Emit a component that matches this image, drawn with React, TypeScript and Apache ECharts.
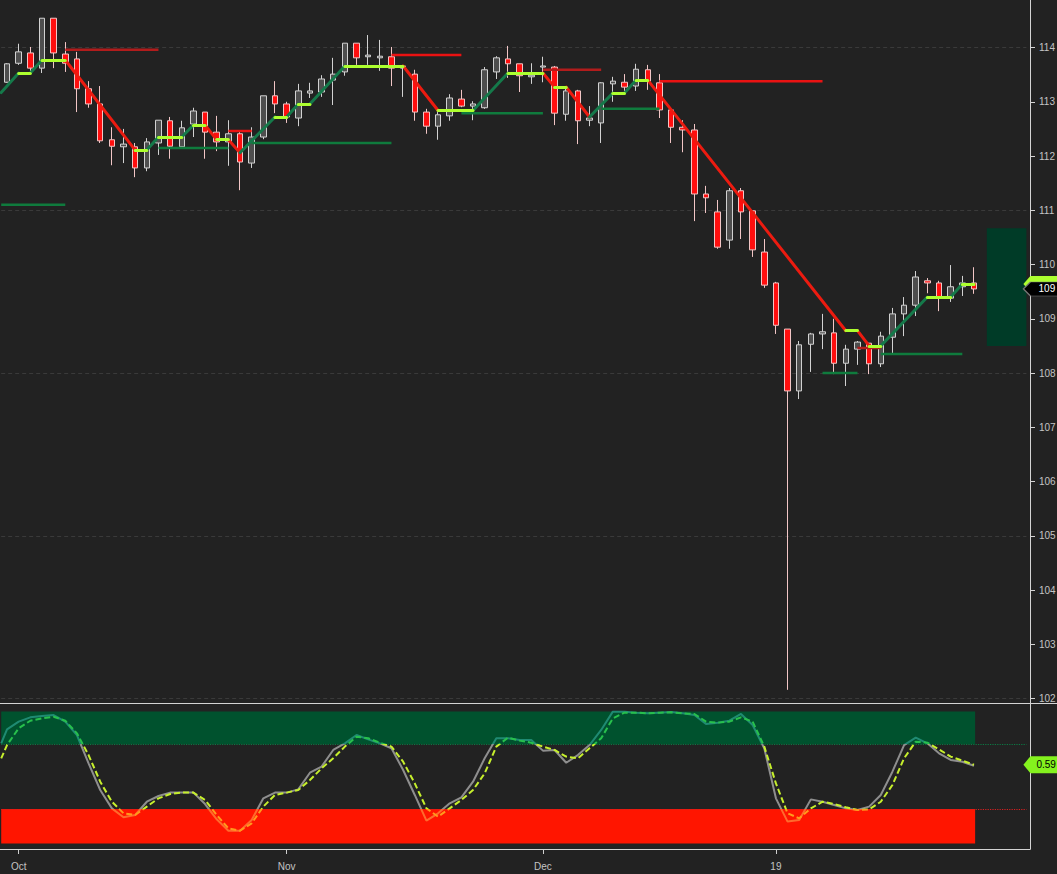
import React, { useEffect, useRef } from 'react';
import * as echarts from 'echarts';

// ---------- data ----------
const dates = [
  '2018-09-28',
  '2018-10-01', '2018-10-02', '2018-10-03', '2018-10-04', '2018-10-05',
  '2018-10-08', '2018-10-09', '2018-10-10', '2018-10-11', '2018-10-12',
  '2018-10-15', '2018-10-16', '2018-10-17', '2018-10-18', '2018-10-19',
  '2018-10-22', '2018-10-23', '2018-10-24', '2018-10-25', '2018-10-26',
  '2018-10-29', '2018-10-30', '2018-10-31',
  '2018-11-01', '2018-11-02',
  '2018-11-05', '2018-11-06', '2018-11-07', '2018-11-08', '2018-11-09',
  '2018-11-12', '2018-11-13', '2018-11-14', '2018-11-15', '2018-11-16',
  '2018-11-19', '2018-11-20', '2018-11-21', '2018-11-22', '2018-11-23',
  '2018-11-26', '2018-11-27', '2018-11-28', '2018-11-29', '2018-11-30',
  '2018-12-03', '2018-12-04', '2018-12-05', '2018-12-06', '2018-12-07',
  '2018-12-10', '2018-12-11', '2018-12-12', '2018-12-13', '2018-12-14',
  '2018-12-17', '2018-12-18', '2018-12-19', '2018-12-20', '2018-12-21',
  '2018-12-24', '2018-12-26', '2018-12-27', '2018-12-28', '2018-12-31',
  '2019-01-02', '2019-01-03', '2019-01-04',
  '2019-01-07', '2019-01-08', '2019-01-09', '2019-01-10', '2019-01-11',
  '2019-01-14', '2019-01-15', '2019-01-16', '2019-01-17', '2019-01-18',
  '2019-01-21', '2019-01-22', '2019-01-23', '2019-01-24', '2019-01-25',
];

const opens = [
  113.36, 113.71, 113.90, 113.62, 114.54, 113.88, 113.79, 113.24, 112.96, 112.30,
  112.17, 112.17, 111.78, 112.24, 112.65, 112.17, 112.59, 112.81, 112.44, 112.26,
  112.41, 111.87, 112.35, 113.11, 112.96, 112.70, 113.16, 113.18, 113.40, 113.55,
  114.08, 113.83, 113.81, 113.83, 113.62, 113.51, 112.81, 112.55, 112.74, 113.05,
  112.92, 112.89, 113.55, 113.79, 113.70, 113.46, 113.64, 113.64, 112.77, 113.20,
  112.66, 112.61, 113.33, 113.36, 113.29, 113.59, 113.35, 112.85, 112.53, 112.48,
  111.30, 110.97, 110.45, 111.36, 110.99, 110.23, 109.66, 108.81, 107.67, 108.53,
  108.72, 108.74, 108.18, 108.44, 108.55, 108.17, 108.66, 109.09, 109.25, 109.70,
  109.66, 109.38, 109.59, 109.66,
];
const closes = [
  113.70, 113.92, 113.62, 114.54, 113.90, 113.71, 113.24, 112.96, 112.28, 112.18,
  112.22, 111.78, 112.26, 112.66, 112.18, 112.52, 112.83, 112.44, 112.26, 112.41,
  111.89, 112.35, 113.11, 112.96, 112.72, 113.20, 113.20, 113.42, 113.51, 114.08,
  113.81, 113.86, 113.84, 113.62, 113.66, 112.81, 112.55, 112.76, 113.07, 112.92,
  112.96, 113.59, 113.81, 113.70, 113.48, 113.49, 113.66, 112.79, 113.20, 112.65,
  112.70, 113.35, 113.38, 113.27, 113.60, 113.38, 112.85, 112.53, 112.48, 111.30,
  111.23, 110.32, 111.36, 110.97, 110.27, 109.62, 108.88, 107.67, 108.52, 108.72,
  108.76, 108.18, 108.44, 108.57, 108.17, 108.68, 109.09, 109.25, 109.77, 109.66,
  109.40, 109.59, 109.66, 109.55,
];
const lows = [
  113.35, 113.68, 113.55, 113.53, 113.62, 113.55, 112.81, 112.89, 112.24, 111.83,
  111.87, 111.61, 111.72, 112.02, 111.95, 112.17, 112.35, 111.95, 112.09, 111.82,
  111.37, 111.78, 112.31, 112.79, 112.61, 112.55, 113.07, 113.09, 112.94, 113.48,
  113.68, 113.68, 113.57, 113.29, 113.09, 112.65, 112.41, 112.30, 112.65, 112.90,
  112.66, 112.87, 113.42, 113.44, 113.18, 113.33, 113.36, 112.57, 112.65, 112.22,
  112.55, 112.24, 113.00, 113.18, 113.20, 113.22, 112.70, 112.24, 112.07, 110.80,
  110.95, 110.29, 110.29, 110.47, 110.14, 109.57, 108.72, 102.16, 107.52, 108.02,
  108.44, 107.98, 107.76, 108.15, 107.98, 108.11, 108.37, 108.68, 109.05, 109.47,
  109.14, 109.31, 109.42, 109.46,
];
const highs = [
  113.71, 114.07, 114.01, 114.54, 114.54, 114.10, 113.92, 113.38, 113.29, 112.53,
  112.50, 112.24, 112.33, 112.66, 112.72, 112.65, 112.89, 112.81, 112.74, 112.66,
  112.44, 112.53, 113.11, 113.38, 113.00, 113.33, 113.35, 113.49, 113.81, 114.08,
  114.08, 114.23, 114.14, 114.01, 113.68, 113.59, 112.87, 112.81, 113.14, 113.22,
  113.01, 113.64, 113.84, 114.03, 113.70, 113.71, 113.83, 113.66, 113.27, 113.22,
  112.92, 113.36, 113.46, 113.51, 113.70, 113.68, 113.51, 112.85, 112.66, 112.59,
  111.45, 111.19, 111.41, 111.41, 110.99, 110.47, 109.68, 108.81, 108.59, 108.74,
  109.09, 109.00, 108.52, 108.59, 108.55, 108.76, 109.20, 109.40, 109.88, 109.75,
  109.70, 109.99, 109.79, 109.95,
];

// trailing step line vertices (bar index, price)
const stepIdx = [-0.5, 1, 2, 3, 5, 11, 12, 13, 15, 16, 17, 18, 19, 20, 23, 24, 25, 26, 29, 34,
  37, 40, 43, 46, 47, 48, 50, 52, 53, 54, 55, 72, 73, 74, 75, 79, 81, 82, 83];
const stepVal = [113.17, 113.53, 113.53, 113.77, 113.77, 112.11, 112.11, 112.35, 112.35, 112.57,
  112.57, 112.30, 112.30, 112.06, 112.72, 112.72, 112.96, 112.96, 113.66, 113.66,
  112.84, 112.84, 113.53, 113.53, 113.27, 113.27, 112.72, 113.16, 113.16, 113.40,
  113.40, 108.78, 108.78, 108.50, 108.50, 109.40, 109.40, 109.64, 109.64];

// resistance levels
const resFrom = [5, 19, 33, 46, 56, 73];
const resTo = [13, 21, 39, 51, 70, 75];
const resVal = [113.96, 112.46, 113.86, 113.59, 113.38, 108.46];
const resOld = [true, false, false, true, false, true];

// support levels
const supFrom = [-0.5, 13, 21, 39, 51, 70, 75];
const supTo = [5, 19, 33, 46, 56, 73, 82];
const supVal = [111.10, 112.15, 112.24, 112.79, 112.87, 108.00, 108.35];

// projection box (bar index range, price range)
const boxIdx = [84.1, 87.5];
const boxPrice = [108.50, 110.67];

const priceTicks = [102, 103, 104, 105, 106, 107, 108, 109, 110, 111, 112, 113, 114];
const priceGrid = [102, 105, 108, 111, 114];

// oscillator
const kLead = 0.755;
const dLead = 0.64;
const kVals = [
  0.863, 0.922, 0.955, 0.965, 0.973, 0.922, 0.819, 0.601, 0.396, 0.255,
  0.186, 0.204, 0.306, 0.350, 0.376, 0.376, 0.376, 0.288, 0.171, 0.083,
  0.083, 0.165, 0.332, 0.376, 0.376, 0.401, 0.529, 0.576, 0.704, 0.755,
  0.819, 0.786, 0.755, 0.717, 0.550, 0.358, 0.160, 0.217, 0.294, 0.340,
  0.460, 0.640, 0.794, 0.794, 0.781, 0.781, 0.699, 0.704, 0.606, 0.665,
  0.742, 0.858, 0.999, 0.999, 0.991, 0.986, 0.991, 0.996, 0.986, 0.973,
  0.904, 0.914, 0.929, 0.981, 0.896, 0.717, 0.332, 0.153, 0.165, 0.324,
  0.306, 0.281, 0.255, 0.242, 0.268, 0.358, 0.537, 0.742, 0.799, 0.755,
  0.678, 0.627, 0.614, 0.583,
];
const dVals = [
  0.742, 0.871, 0.929, 0.947, 0.960, 0.929, 0.832, 0.665, 0.460, 0.306,
  0.217, 0.204, 0.268, 0.332, 0.365, 0.376, 0.376, 0.319, 0.204, 0.101,
  0.083, 0.140, 0.268, 0.358, 0.376, 0.396, 0.473, 0.563, 0.640, 0.730,
  0.806, 0.794, 0.760, 0.730, 0.614, 0.447, 0.255, 0.191, 0.255, 0.319,
  0.396, 0.524, 0.730, 0.799, 0.776, 0.760, 0.730, 0.704, 0.653, 0.640,
  0.717, 0.794, 0.947, 0.991, 0.991, 0.986, 0.991, 0.994, 0.986, 0.981,
  0.922, 0.914, 0.922, 0.955, 0.922, 0.730, 0.447, 0.217, 0.178, 0.255,
  0.306, 0.288, 0.263, 0.242, 0.247, 0.306, 0.435, 0.640, 0.768, 0.760,
  0.709, 0.653, 0.622, 0.590,
];
const obLevel = 0.75;
const osLevel = 0.25;
const obZone = [0.75, 1.0];
const osZone = [-0.015, 0.25];
const zoneEndIdx = 83.1;

const MONTHS = ['Jan', 'Feb', 'Mar', 'Apr', 'May', 'Jun', 'Jul', 'Aug', 'Sep', 'Oct', 'Nov', 'Dec'];

// ---------- chart ----------
const FONT = 'Liberation Sans, Arial, sans-serif';
const SLOTS = 88;
const LABEL_PATH = 'path://M0,8 L7,0 L40,0 L40,16 L7,16 Z';

function levelSeries(from: number[], to: number[], val: number[], keep: (i: number) => boolean, color: string) {
  const data: any[] = [];
  val.forEach((v, i) => {
    if (!keep(i)) return;
    data.push([from[i], v], [to[i], v], [to[i] + 0.01, '-']);
  });
  return {
    type: 'line', xAxisIndex: 1, yAxisIndex: 0, z: 3, silent: true,
    symbol: 'none', connectNulls: false,
    lineStyle: { width: 2.5, color, type: 'solid' },
    data,
  };
}

export default function App() {
  const ref = useRef<HTMLDivElement>(null);

  useEffect(() => {
    const chart = echarts.init(ref.current!, null, { renderer: 'svg' });

    const cats = dates.concat(Array.from({ length: SLOTS - dates.length }, (_, i) => ' '.repeat(i + 1)));
    const candleData = opens.map((o, i) => [o, closes[i], lows[i], highs[i]]);

    const tickIdx: number[] = [];
    const tickText: Record<number, string> = {};
    for (let i = 1; i < dates.length; i++) {
      const m = dates[i].slice(5, 7);
      if (m !== dates[i - 1].slice(5, 7)) {
        tickIdx.push(i);
        const mi = Number(m) - 1;
        tickText[i] = mi === 0 ? dates[i].slice(2, 4) : MONTHS[mi];
      }
    }

    const LIME = '#adff2f';
    const UPC = '#15794a';
    const DNC = '#ec1b10';
    const stepSegs: any[] = [];
    for (let j = 0; j < stepIdx.length - 1; j++) {
      const a = stepVal[j], b = stepVal[j + 1];
      const color = a === b ? LIME : b > a ? UPC : DNC;
      stepSegs.push({
        coords: [[stepIdx[j], a], [stepIdx[j + 1], b]],
        lineStyle: { color },
      });
    }
    stepSegs.sort((p, q) => (p.lineStyle.color === LIME ? 1 : 0) - (q.lineStyle.color === LIME ? 1 : 0));

    const kData = [[-0.5, kLead]].concat(kVals.map((v, i) => [i, v]));
    const dData = [[-0.5, dLead]].concat(dVals.map((v, i) => [i, v]));

    const lastClose = closes[closes.length - 1];
    const lastStep = stepVal[stepVal.length - 1];
    const lastD = dVals[dVals.length - 1];

    const option: any = {
      animation: false,
      backgroundColor: '#222222',
      textStyle: { fontFamily: FONT },
      grid: [
        { left: 1.2, width: 1025.2, top: 0, height: 703, containLabel: false, outerBoundsMode: 'none' },
        { left: 1.2, width: 1025.2, top: 704, height: 145, containLabel: false, outerBoundsMode: 'none' },
      ],
      xAxis: [
        { type: 'category', gridIndex: 0, data: cats, show: false, boundaryGap: true, axisLine: { onZero: false } },
        { type: 'value', gridIndex: 0, min: -0.5, max: SLOTS - 0.5, show: false, axisLine: { onZero: false } },
        {
          type: 'value', gridIndex: 1, min: -0.5, max: SLOTS - 0.5,
          axisLine: { show: false, onZero: false },
          splitLine: { show: false },
          axisTick: { show: true, customValues: tickIdx, length: 5, lineStyle: { color: '#d0d0d0' } },
          axisLabel: {
            customValues: tickIdx,
            formatter: (v: number) => tickText[Math.round(v)] ?? '',
            color: '#c4c4c4', fontSize: 10, margin: 12, fontFamily: FONT,
          },
        },
      ],
      yAxis: [
        {
          type: 'value', gridIndex: 0, position: 'right', offset: 3.6,
          min: 101.917, max: 114.876,
          axisLine: { show: true, onZero: false, lineStyle: { color: '#d4d4d4' } },
          axisTick: { show: true, length: 5, customValues: priceTicks, lineStyle: { color: '#d4d4d4' } },
          axisLabel: {
            customValues: priceTicks,
            formatter: (v: number) => String(Math.round(v)),
            color: '#c4c4c4', fontSize: 10, margin: 9, fontFamily: FONT,
          },
          splitLine: { show: false },
        },
        {
          type: 'value', gridIndex: 1, position: 'right', offset: 3.6,
          min: -0.0577, max: 1.0577,
          axisLine: { show: true, onZero: false, lineStyle: { color: '#d4d4d4' } },
          axisTick: { show: false },
          axisLabel: { show: false },
          splitLine: { show: false },
        },
      ],
      visualMap: [
        {
          type: 'piecewise', show: false, seriesIndex: 6, dimension: 1,
          pieces: [
            { gt: obLevel, color: '#1f8a72' },
            { gte: osLevel, lte: obLevel, color: '#8e8e8e' },
            { lt: osLevel, color: '#ff6a2c' },
          ],
        },
        {
          type: 'piecewise', show: false, seriesIndex: 7, dimension: 1,
          pieces: [
            { gt: obLevel, color: '#27c04c' },
            { gte: osLevel, lte: obLevel, color: '#c6ef2c' },
            { lt: osLevel, color: '#ff9a1c' },
          ],
        },
      ],
      graphic: [
        { type: 'line', silent: true, z: 100, shape: { x1: 0, y1: 703.5, x2: 1057, y2: 703.5 }, style: { stroke: '#d4d4d4', lineWidth: 1 } },
        { type: 'line', silent: true, z: 100, shape: { x1: 0, y1: 849.5, x2: 1030.5, y2: 849.5 }, style: { stroke: '#d4d4d4', lineWidth: 1 } },
      ],
      series: [
        {
          type: 'line', xAxisIndex: 1, yAxisIndex: 0, data: [], z: 1, silent: true,
          markLine: {
            silent: true, z: 1, symbol: ['none', 'none'], label: { show: false },
            lineStyle: { color: '#3a3a3a', type: [4, 3], width: 1 },
            data: priceGrid.map((v) => ({ yAxis: v })),
          },
          markArea: {
            silent: true, z: 1,
            itemStyle: { color: '#003b27' },
            data: [[{ xAxis: boxIdx[0], yAxis: boxPrice[1] }, { xAxis: boxIdx[1], yAxis: boxPrice[0] }]],
          },
        },
        {
          type: 'candlestick', xAxisIndex: 0, yAxisIndex: 0, z: 2, barWidth: 6,
          data: candleData,
          itemStyle: {
            color: '#4e4e4e', color0: '#ff0e0e',
            borderColor: '#d2d2d2', borderColor0: '#f2c6c6', borderWidth: 1,
          },
        },
        levelSeries(supFrom, supTo, supVal, () => true, '#0f7b3d'),
        {
          type: 'lines', coordinateSystem: 'cartesian2d', xAxisIndex: 1, yAxisIndex: 0, z: 4,
          silent: true, polyline: false,
          lineStyle: { width: 3, opacity: 1, curveness: 0, cap: 'round' },
          data: stepSegs,
        },
        {
          type: 'line', xAxisIndex: 1, yAxisIndex: 0, data: [], z: 10, silent: true,
          markPoint: {
            silent: true, z: 10,
            data: [
              {
                coord: [SLOTS - 0.5, lastStep], value: lastStep,
                symbol: LABEL_PATH, symbolKeepAspect: false, symbolSize: [40, 16], symbolOffset: [17, 0],
                itemStyle: { color: LIME },
                label: { show: false },
              },
              {
                coord: [SLOTS - 0.5, lastClose], value: lastClose,
                symbol: LABEL_PATH, symbolKeepAspect: false, symbolSize: [40, 14], symbolOffset: [17, 0],
                itemStyle: { color: '#000000', borderColor: '#777777', borderWidth: 1 },
                label: {
                  show: true, position: 'insideLeft', distance: 16,
                  formatter: () => String(Math.trunc(lastClose)),
                  color: '#ffffff', fontSize: 10, fontFamily: FONT,
                },
              },
            ],
          },
        },
        {
          type: 'line', xAxisIndex: 2, yAxisIndex: 1, data: [], z: 1, silent: true,
          markArea: {
            silent: true, z: 1,
            data: [
              [{ xAxis: -0.5, yAxis: obZone[1], itemStyle: { color: '#00522e' } }, { xAxis: zoneEndIdx, yAxis: obZone[0] }],
              [{ xAxis: -0.5, yAxis: osZone[1], itemStyle: { color: '#ff1500' } }, { xAxis: zoneEndIdx, yAxis: osZone[0] }],
            ],
          },
          markLine: {
            silent: true, z: 2, symbol: ['none', 'none'], label: { show: false },
            data: [
              { yAxis: obLevel, lineStyle: { color: '#0c7a44', type: 'dotted', width: 1.2 } },
              { yAxis: osLevel, lineStyle: { color: '#d82020', type: 'dotted', width: 1.2 } },
            ],
          },
        },
        {
          type: 'line', xAxisIndex: 2, yAxisIndex: 1, z: 3, symbol: 'none', silent: true,
          lineStyle: { width: 2 },
          data: kData,
        },
        {
          type: 'line', xAxisIndex: 2, yAxisIndex: 1, z: 4, symbol: 'none', silent: true,
          lineStyle: { width: 2, type: [6, 3] },
          data: dData,
          markPoint: {
            silent: true, z: 10,
            data: [
              {
                coord: [SLOTS - 0.5, lastD], value: lastD,
                symbol: LABEL_PATH, symbolKeepAspect: false, symbolSize: [40, 17], symbolOffset: [17, 0],
                itemStyle: { color: '#84f21e' },
                label: {
                  show: true, position: 'insideLeft', distance: 13,
                  formatter: () => lastD.toFixed(2),
                  color: '#000000', fontSize: 10, fontFamily: FONT,
                },
              },
            ],
          },
        },
        levelSeries(resFrom, resTo, resVal, (i) => resOld[i], '#b21c1c'),
        levelSeries(resFrom, resTo, resVal, (i) => !resOld[i], '#ea1212'),
      ],
    };

    chart.setOption(option);
    return () => chart.dispose();
  }, []);

  return (
    <div
      ref={ref}
      style={{ position: 'fixed', left: 0, top: 0, width: 1057, height: 874, overflow: 'hidden' }}
    />
  );
}
